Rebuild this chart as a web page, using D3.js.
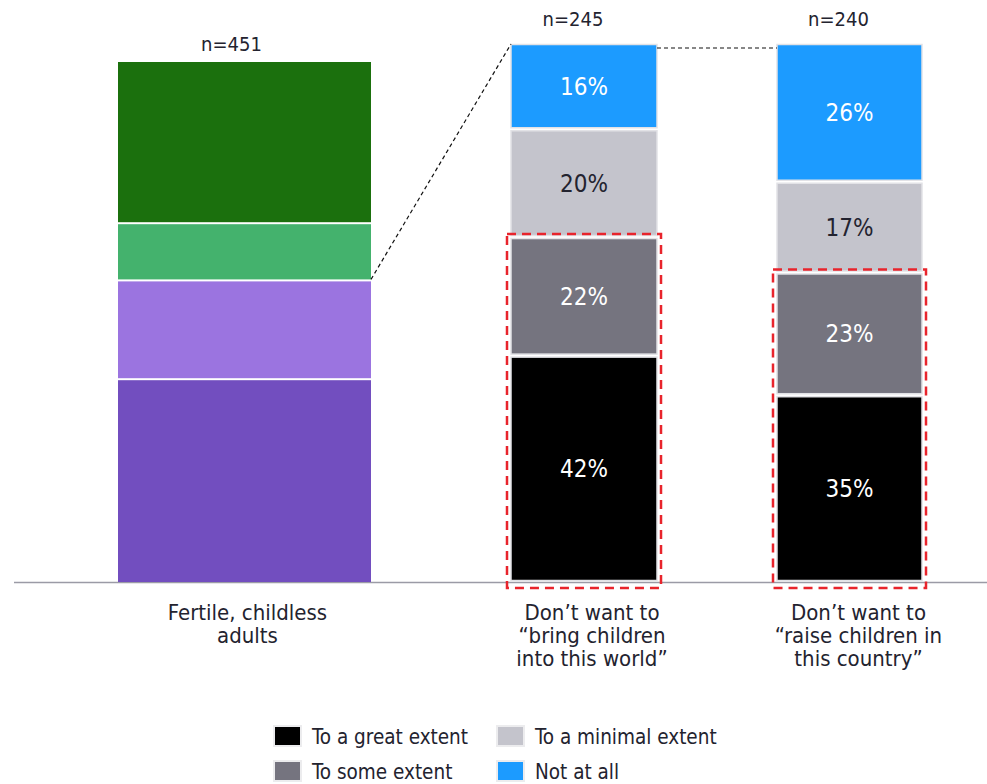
<!DOCTYPE html>
<html>
<head>
<meta charset="utf-8">
<script src="https://cdn.jsdelivr.net/npm/d3@7"></script>
<style>
  html, body { margin: 0; padding: 0; background: #ffffff; }
  svg { display: block; }
  text { font-family: "DejaVu Sans Condensed", "DejaVu Sans", sans-serif; }
</style>
</head>
<body>
<svg id="chart" width="987" height="784"></svg>
<script>
// Overall sample: shares of fertile, childless adults (bottom to top)
const baseSegments = ["seg1", "seg2", "seg3", "seg4"];
const baseValues = [39, 19, 11, 31];
const baseColors = ["#724ebf", "#9b74e0", "#44b26d", "#1b700d"];

// Agreement levels for the two reasons (bottom to top)
const levels = ["To a great extent", "To some extent", "To a minimal extent", "Not at all"];
const levelColors = ["#000000", "#75747f", "#c4c4cc", "#1c9bff"];
const levelTextColors = ["#ffffff", "#ffffff", "#23232f", "#ffffff"];

const categories = ["Fertile, childless adults", "Don't want to bring children", "Don't want to raise children"];
const categoryLines = [
  ["Fertile, childless", "adults"],
  ["Don\u2019t want to", "\u201cbring children", "into this world\u201d"],
  ["Don\u2019t want to", "\u201craise children in", "this country\u201d"]
];
const sampleSizes = ["n=451", "n=245", "n=240"];

const bringValues = [42, 22, 20, 16];
const raiseValues = [35, 23, 17, 26];

// Legend order (row-major, two columns)
const legendOrder = [0, 2, 1, 3];

const svg = d3.select("#chart");
const textColor = "#23232f";
const baseline = 582;

// Horizontal placement of the three bars
const xCenter = d3.scaleOrdinal().domain(categories).range([244.5, 584, 849.5]);
const barWidth = d3.scaleOrdinal().domain(categories).range([253, 146, 145]);

// Vertical scale for the overall bar
const yBase = d3.scaleLinear().domain([0, d3.sum(baseValues)]).range([baseline, 62]);
// Each breakdown bar is scaled to its own total so both reach the same height
const yFor = vals => d3.scaleLinear().domain([0, d3.sum(vals)]).range([baseline, 43]);

function stack(values) {
  let acc = 0;
  return values.map((v, i) => {
    const s = { i, v, y0: acc, y1: acc + v };
    acc += v;
    return s;
  });
}

// Baseline axis
svg.append("line")
  .attr("x1", 14).attr("x2", 987)
  .attr("y1", baseline + 0.5).attr("y2", baseline + 0.5)
  .attr("stroke", "#9b9ba6").attr("stroke-width", 1.5);

// Left bar
{
  const cat = categories[0];
  const x0 = xCenter(cat) - barWidth(cat) / 2;
  const last = baseValues.length - 1;
  svg.append("g").selectAll("rect")
    .data(stack(baseValues))
    .join("rect")
    .attr("x", x0)
    .attr("width", barWidth(cat))
    .attr("y", d => yBase(d.y1) + (d.i === last ? 0 : 1))
    .attr("height", d => yBase(d.y0) - yBase(d.y1) - (d.i === 0 ? 1 : 2) + (d.i === last ? 1 : 0))
    .attr("fill", d => baseColors[d.i]);
}

// Stacked bars for the two reasons
const reasonSeries = [bringValues, raiseValues];
reasonSeries.forEach((vals, k) => {
  const cat = categories[k + 1];
  const y = yFor(vals);
  const w = barWidth(cat);
  const x0 = xCenter(cat) - w / 2;
  const g = svg.append("g");
  const segs = stack(vals);
  g.selectAll("rect")
    .data(segs)
    .join("rect")
    .attr("x", x0)
    .attr("width", w)
    .attr("y", d => y(d.y1) + 1.5)
    .attr("height", d => Math.max(0, y(d.y0) - y(d.y1) - 3))
    .attr("fill", d => levelColors[d.i])
    .attr("stroke", "#e2e2e6")
    .attr("stroke-width", 1.5);
  g.selectAll("text")
    .data(segs)
    .join("text")
    .attr("x", xCenter(cat))
    .attr("y", d => (y(d.y0) + y(d.y1)) / 2)
    .attr("dy", "0.36em")
    .attr("text-anchor", "middle")
    .attr("font-size", 24)
    .attr("fill", d => levelTextColors[d.i])
    .text(d => d.v + "%");

  // Red dashed frame around the two strongest levels
  const top = y(vals[0] + vals[1]);
  svg.append("rect")
    .attr("x", x0 - 4)
    .attr("y", top - 3)
    .attr("width", w + 8)
    .attr("height", baseline + 6 - (top - 3))
    .attr("fill", "none")
    .attr("stroke", "#e8242c")
    .attr("stroke-width", 2.5)
    .attr("stroke-dasharray", "9,6");
});

// Connector lines from the overall bar to the breakdown bars
{
  const c0 = categories[0], c1 = categories[1], c2 = categories[2];
  const rightEdge0 = xCenter(c0) + barWidth(c0) / 2;
  const leftEdge1 = xCenter(c1) - barWidth(c1) / 2;
  const rightEdge1 = xCenter(c1) + barWidth(c1) / 2;
  const leftEdge2 = xCenter(c2) - barWidth(c2) / 2;
  const yTop = yFor(bringValues)(d3.sum(bringValues));
  svg.append("line")
    .attr("x1", rightEdge0).attr("y1", yBase(baseValues[0] + baseValues[1]) - 1)
    .attr("x2", leftEdge1).attr("y2", yTop + 1)
    .attr("stroke", "#111").attr("stroke-width", 1.2)
    .attr("stroke-dasharray", "4,3");
  svg.append("line")
    .attr("x1", rightEdge1).attr("y1", yTop + 5)
    .attr("x2", leftEdge2).attr("y2", yTop + 5)
    .attr("stroke", "#111").attr("stroke-width", 1.2)
    .attr("stroke-dasharray", "4,3");
}

// Sample sizes above bars
const nY = [51, 26, 26];
categories.forEach((cat, i) => {
  svg.append("text")
    .attr("x", xCenter(cat) - (i === 0 ? 13 : 11))
    .attr("y", nY[i])
    .attr("text-anchor", "middle")
    .attr("font-size", 20)
    .attr("fill", textColor)
    .text(sampleSizes[i]);
});

// Category labels under the axis
const labelShift = [3, 8, 9];
categories.forEach((cat, i) => {
  const t = svg.append("text")
    .attr("x", xCenter(cat) + labelShift[i])
    .attr("y", 620)
    .attr("text-anchor", "middle")
    .attr("font-size", 22)
    .attr("fill", textColor);
  categoryLines[i].forEach((line, j) => {
    t.append("tspan")
      .attr("x", xCenter(cat) + labelShift[i])
      .attr("dy", j === 0 ? 0 : 23)
      .text(line);
  });
});

// Legend
const legendCols = [274, 497];
const legendRows = [726, 761];
const legend = svg.append("g");
legendOrder.forEach((lvl, idx) => {
  const col = idx % 2, row = Math.floor(idx / 2);
  const gx = legendCols[col], gy = legendRows[row];
  legend.append("rect")
    .attr("x", gx).attr("y", gy)
    .attr("width", 27).attr("height", 20)
    .attr("fill", levelColors[lvl])
    .attr("stroke", "#ececee").attr("stroke-width", 2);
  legend.append("text")
    .attr("x", gx + 38).attr("y", gy + 18)
    .attr("font-size", 20.5)
    .attr("fill", textColor)
    .text(levels[lvl]);
});
</script>
</body>
</html>
